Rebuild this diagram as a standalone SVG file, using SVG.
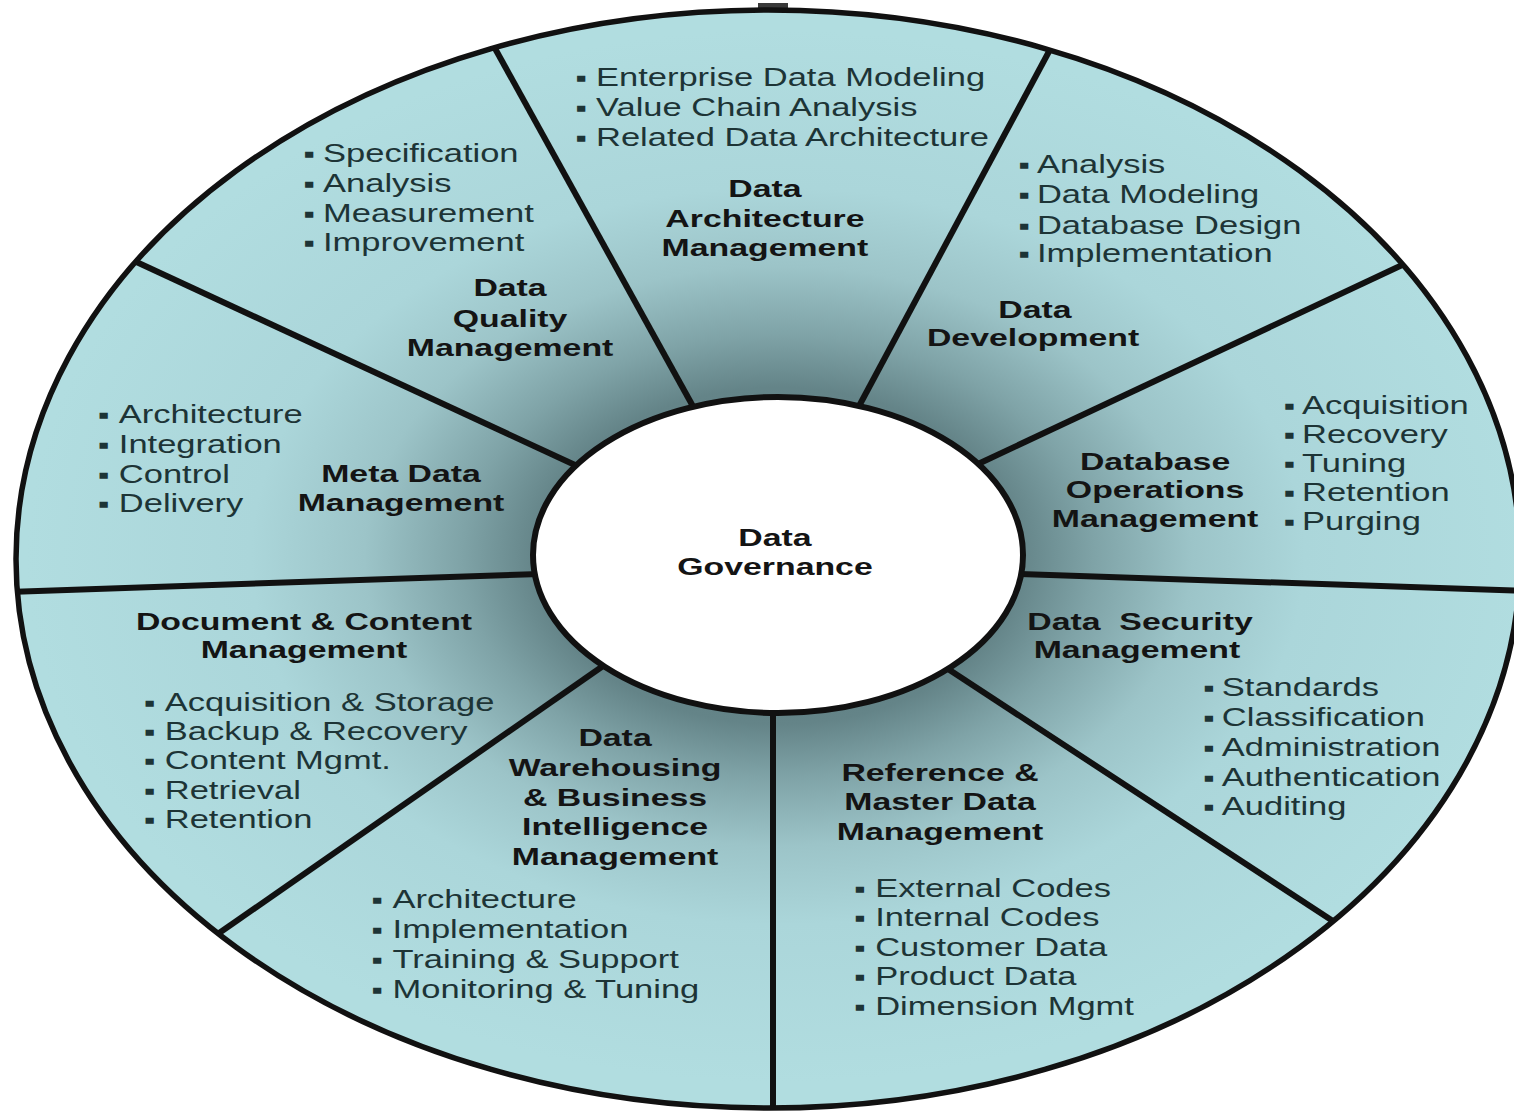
<svg xmlns="http://www.w3.org/2000/svg" width="1514" height="1113" viewBox="0 0 1514 1113">
<style>
.b{font-family:'Liberation Sans',Arial,sans-serif;font-size:25px;fill:#1d3436}
.d{font-size:24px}
.h{font-family:'Liberation Sans',Arial,sans-serif;font-size:24.5px;font-weight:bold;fill:#141414;text-anchor:middle;white-space:pre}
.div{stroke:#111;stroke-width:6;fill:none}
</style>
<defs>
<radialGradient id="g" gradientUnits="userSpaceOnUse" cx="778" cy="556" r="752" gradientTransform="translate(778 556) scale(1 0.7) translate(-778 -556)">
<stop offset="0" stop-color="#56767a"/>
<stop offset="0.32" stop-color="#648488"/>
<stop offset="0.42" stop-color="#7fa3a7"/>
<stop offset="0.55" stop-color="#9cc4c8"/>
<stop offset="0.7" stop-color="#abd6da"/>
<stop offset="1" stop-color="#b1dde0"/>
</radialGradient>
<clipPath id="oc"><ellipse cx="768" cy="559" rx="752" ry="549"/></clipPath>
</defs>
<rect width="1514" height="1113" fill="#ffffff"/>
<rect x="758" y="3" width="30" height="8" fill="#3a3a3a"/>
<ellipse id="wheel" cx="768" cy="559" rx="752" ry="549" fill="url(#g)"/>
<g id="dividers" class="div" clip-path="url(#oc)">
<line x1="575" y1="465" x2="130" y2="259"/>
<line x1="695" y1="410" x2="492" y2="43"/>
<line x1="858" y1="408" x2="1053" y2="44"/>
<line x1="978" y1="464" x2="1415" y2="259"/>
<line x1="1020" y1="574" x2="1530" y2="591"/>
<line x1="945" y1="667" x2="1342" y2="927"/>
<line x1="773" y1="710" x2="773" y2="1120"/>
<line x1="603" y1="666" x2="212" y2="938"/>
<line x1="540" y1="574" x2="5" y2="592"/>
</g>
<ellipse cx="768" cy="559" rx="752" ry="549" fill="none" stroke="#111" stroke-width="5.5"/>
<g id="center">
<ellipse cx="778" cy="555" rx="245" ry="158" fill="#ffffff" stroke="#111" stroke-width="6"/>
<g transform="scale(1.38 1)">
<text class="h" x="561.6" y="546">Data</text>
<text class="h" x="561.6" y="575">Governance</text>
</g>
</g>
<g id="data-quality" transform="scale(1.38 1)">
<text class="b" x="220" y="162"><tspan class="d">▪</tspan><tspan x="234.1">Specification</tspan></text>
<text class="b" x="220" y="192"><tspan class="d">▪</tspan><tspan x="234.1">Analysis</tspan></text>
<text class="b" x="220" y="222"><tspan class="d">▪</tspan><tspan x="234.1">Measurement</tspan></text>
<text class="b" x="220" y="251"><tspan class="d">▪</tspan><tspan x="234.1">Improvement</tspan></text>
<text class="h" x="369.6" y="296">Data</text>
<text class="h" x="369.6" y="327">Quality</text>
<text class="h" x="369.6" y="356">Management</text>
</g>
<g id="data-architecture" transform="scale(1.38 1)">
<text class="b" x="417.1" y="86"><tspan class="d">▪</tspan><tspan x="431.9">Enterprise Data Modeling</tspan></text>
<text class="b" x="417.1" y="116"><tspan class="d">▪</tspan><tspan x="431.9">Value Chain Analysis</tspan></text>
<text class="b" x="417.1" y="146"><tspan class="d">▪</tspan><tspan x="431.9">Related Data Architecture</tspan></text>
<text class="h" x="554.3" y="197">Data</text>
<text class="h" x="554.3" y="227">Architecture</text>
<text class="h" x="554.3" y="256">Management</text>
</g>
<g id="data-development" transform="scale(1.38 1)">
<text class="b" x="738.1" y="173"><tspan class="d">▪</tspan><tspan x="751.4">Analysis</tspan></text>
<text class="b" x="738.1" y="203"><tspan class="d">▪</tspan><tspan x="751.4">Data Modeling</tspan></text>
<text class="b" x="738.1" y="234"><tspan class="d">▪</tspan><tspan x="751.4">Database Design</tspan></text>
<text class="b" x="738.1" y="262"><tspan class="d">▪</tspan><tspan x="751.4">Implementation</tspan></text>
<text class="h" x="750" y="318">Data</text>
<text class="h" x="748.6" y="346">Development</text>
</g>
<g id="database-operations" transform="scale(1.38 1)">
<text class="h" x="837" y="470">Database</text>
<text class="h" x="837" y="498">Operations</text>
<text class="h" x="837" y="527">Management</text>
<text class="b" x="930.2" y="414"><tspan class="d">▪</tspan><tspan x="943.5">Acquisition</tspan></text>
<text class="b" x="930.2" y="443"><tspan class="d">▪</tspan><tspan x="943.5">Recovery</tspan></text>
<text class="b" x="930.2" y="472"><tspan class="d">▪</tspan><tspan x="943.5">Tuning</tspan></text>
<text class="b" x="930.2" y="501"><tspan class="d">▪</tspan><tspan x="943.5">Retention</tspan></text>
<text class="b" x="930.2" y="530"><tspan class="d">▪</tspan><tspan x="943.5">Purging</tspan></text>
</g>
<g id="meta-data" transform="scale(1.38 1)">
<text class="b" x="71" y="423"><tspan class="d">▪</tspan><tspan x="86.1">Architecture</tspan></text>
<text class="b" x="71" y="453"><tspan class="d">▪</tspan><tspan x="86.1">Integration</tspan></text>
<text class="b" x="71" y="483"><tspan class="d">▪</tspan><tspan x="86.1">Control</tspan></text>
<text class="b" x="71" y="512"><tspan class="d">▪</tspan><tspan x="86.1">Delivery</tspan></text>
<text class="h" x="290.6" y="482">Meta Data</text>
<text class="h" x="290.6" y="511">Management</text>
</g>
<g id="document-content" transform="scale(1.38 1)">
<text class="h" x="220.3" y="630">Document &amp; Content</text>
<text class="h" x="220.3" y="658">Management</text>
<text class="b" x="104.4" y="711"><tspan class="d">▪</tspan><tspan x="119.4">Acquisition &amp; Storage</tspan></text>
<text class="b" x="104.4" y="740"><tspan class="d">▪</tspan><tspan x="119.4">Backup &amp; Recovery</tspan></text>
<text class="b" x="104.4" y="769"><tspan class="d">▪</tspan><tspan x="119.4">Content Mgmt.</tspan></text>
<text class="b" x="104.4" y="799"><tspan class="d">▪</tspan><tspan x="119.4">Retrieval</tspan></text>
<text class="b" x="104.4" y="828"><tspan class="d">▪</tspan><tspan x="119.4">Retention</tspan></text>
</g>
<g id="data-warehousing" transform="scale(1.38 1)">
<text class="h" x="445.7" y="746">Data</text>
<text class="h" x="445.7" y="776">Warehousing</text>
<text class="h" x="445.7" y="806">&amp; Business</text>
<text class="h" x="445.7" y="835">Intelligence</text>
<text class="h" x="445.7" y="865">Management</text>
<text class="b" x="269.3" y="908"><tspan class="d">▪</tspan><tspan x="284.5">Architecture</tspan></text>
<text class="b" x="269.3" y="938"><tspan class="d">▪</tspan><tspan x="284.5">Implementation</tspan></text>
<text class="b" x="269.3" y="968"><tspan class="d">▪</tspan><tspan x="284.5">Training &amp; Support</tspan></text>
<text class="b" x="269.3" y="998"><tspan class="d">▪</tspan><tspan x="284.5">Monitoring &amp; Tuning</tspan></text>
</g>
<g id="reference-master" transform="scale(1.38 1)">
<text class="h" x="681.2" y="781">Reference &amp;</text>
<text class="h" x="681.2" y="810">Master Data</text>
<text class="h" x="681.2" y="840">Management</text>
<text class="b" x="619.1" y="897"><tspan class="d">▪</tspan><tspan x="634.2">External Codes</tspan></text>
<text class="b" x="619.1" y="926"><tspan class="d">▪</tspan><tspan x="634.2">Internal Codes</tspan></text>
<text class="b" x="619.1" y="956"><tspan class="d">▪</tspan><tspan x="634.2">Customer Data</tspan></text>
<text class="b" x="619.1" y="985"><tspan class="d">▪</tspan><tspan x="634.2">Product Data</tspan></text>
<text class="b" x="619.1" y="1015"><tspan class="d">▪</tspan><tspan x="634.2">Dimension Mgmt</tspan></text>
</g>
<g id="data-security" transform="scale(1.38 1)">
<text class="h" x="826.1" y="630">Data  Security</text>
<text class="h" x="823.9" y="658">Management</text>
<text class="b" x="872" y="696"><tspan class="d">▪</tspan><tspan x="885.4">Standards</tspan></text>
<text class="b" x="872" y="726"><tspan class="d">▪</tspan><tspan x="885.4">Classification</tspan></text>
<text class="b" x="872" y="756"><tspan class="d">▪</tspan><tspan x="885.4">Administration</tspan></text>
<text class="b" x="872" y="786"><tspan class="d">▪</tspan><tspan x="885.4">Authentication</tspan></text>
<text class="b" x="872" y="815"><tspan class="d">▪</tspan><tspan x="885.4">Auditing</tspan></text>
</g>
</svg>
